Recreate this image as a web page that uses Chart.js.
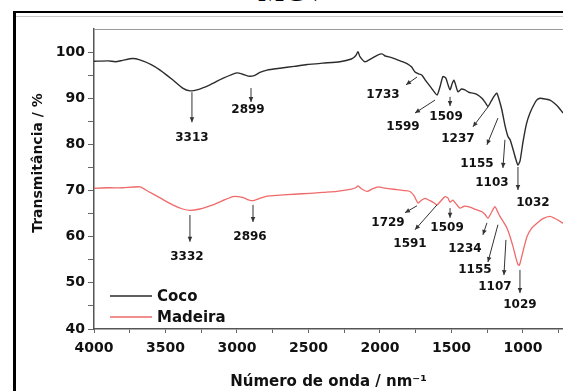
<!DOCTYPE html>
<html><head><meta charset="utf-8">
<script src="https://cdn.jsdelivr.net/npm/chart.js@4/dist/chart.umd.min.js"></script>
<style>
html,body{margin:0;padding:0;background:#fff;width:563px;height:391px;overflow:hidden;}
#title{position:absolute;left:0;width:584px;top:-24px;text-align:center;font-family:"Liberation Serif","Times New Roman",serif;font-size:30px;line-height:30px;color:#000;}
#frame{position:absolute;left:13px;top:11px;width:600px;height:400px;border-left:3px solid #000;border-top:2px solid #000;}
#inner{position:absolute;left:16px;top:16px;width:600px;height:0;border-top:1px solid #c8c8c8;}
#wrap{position:absolute;left:0;top:0;width:563px;height:391px;}
</style></head>
<body>
<div id="title">MCV</div>
<div id="frame"></div>
<div id="inner"></div>
<div id="wrap"><canvas id="c" width="563" height="391"></canvas></div>
<script>
// ---- data ----
const seriesNames = ['Coco', 'Madeira'];
const cocoX = [4000,3900,3850,3800,3730,3680,3600,3538,3450,3380,3329,3280,3189,3100,3000,2960,2923,2880,2840,2790,2700,2600,2510,2400,2280,2200,2170,2154,2140,2105,2060,2020,1986,1960,1944,1900,1850,1811,1780,1755,1730,1706,1680,1640,1601,1580,1560,1540,1525,1510,1495,1483,1470,1455,1430,1406,1380,1350,1320,1287,1260,1245,1220,1200,1182,1165,1147,1125,1105,1090,1070,1050,1035,1020,1000,975,951,920,900,881,860,840,811,780,750,720];
const cocoY = [98.0,98.1,97.9,98.2,98.6,98.3,97.3,96.1,94.0,92.2,91.6,91.8,92.9,94.3,95.5,95.2,94.8,94.9,95.6,96.1,96.5,96.9,97.3,97.6,97.9,98.5,99.2,100.1,99.0,97.9,98.6,99.3,99.6,99.1,99.0,98.6,98.0,97.5,96.8,95.7,95.3,95.0,93.8,92.2,90.7,92.5,94.7,94.4,93.0,91.8,93.2,93.9,92.8,91.4,92.0,91.8,91.3,91.1,90.8,90.0,88.9,88.2,89.5,90.5,91.1,89.5,87.4,84.0,81.7,81.0,79.0,76.8,75.5,76.5,80.5,84.5,86.8,88.8,89.7,90.0,89.9,89.8,89.6,88.9,88.0,86.8];
const madX = [4000,3900,3800,3678,3620,3538,3450,3380,3329,3260,3168,3100,3028,2960,2920,2888,2850,2790,2700,2600,2490,2400,2301,2200,2170,2154,2130,2091,2050,2014,1980,1940,1880,1830,1790,1760,1734,1710,1685,1650,1620,1601,1570,1545,1525,1510,1490,1465,1441,1410,1371,1330,1287,1265,1245,1220,1196,1180,1161,1140,1112,1090,1070,1050,1035,1025,1010,990,972,940,902,860,811,780,750,720];
const madY = [70.5,70.6,70.6,70.8,69.8,68.4,66.9,66.0,65.7,66.0,66.9,67.8,68.7,68.5,68.0,67.8,68.2,68.8,69.0,69.2,69.4,69.6,69.8,70.3,70.6,71.0,70.4,69.8,70.4,70.8,70.6,70.4,70.2,70.0,69.8,68.8,67.3,67.9,68.3,67.8,67.3,66.9,67.9,68.7,68.4,67.5,67.9,67.0,66.2,66.6,66.4,65.9,65.4,64.8,64.0,65.3,66.5,65.6,64.4,63.4,61.9,60.0,57.9,55.5,54.0,53.8,55.5,58.0,60.0,61.8,62.9,63.9,64.4,64.0,63.5,62.9];
const xTicks = [4000,3750,3500,3250,3000,2750,2500,2250,2000,1750,1500,1250,1000,750];
const yTicks = [40,45,50,55,60,65,70,75,80,85,90,95,100];
const xTitle = 'Número de onda / nm⁻¹';
const yTitle = 'Transmitância / %';
// peak annotations (data units): label, label position, arrow start, arrow end
const annText  = ['3313','2899','1733','1599','1509','1237','1155','1103','1032','3332','2896','1729','1591','1509','1234','1155','1107','1029'];
const annTextX = [3315,2923,1979,1839,1538,1455,1322,1217,930, 3350,2909,1944,1790,1531,1406,1336,1196,1021];
const annTextY = [81.4,87.4,90.7,83.8,85.9,81.2,75.8,71.6,67.3, 55.6,60.0,63.0,58.4,61.9,57.4,52.8,49.1,45.2];
const annFromX = [3315,2902,1741,1615,1510,1245,1175,1126,1035, 3329,2888,1741,1601,1510,1252,1175,1119,1021];
const annFromY = [91.3,92.2,94.6,89.6,90.3,88.1,85.7,81.0,75.1, 64.7,66.9,66.7,66.9,66.2,63.0,62.6,59.3,52.8];
const annToX   = [3315,2902,1818,1755,1510,1350,1252,1140,1035, 3329,2888,1825,1755,1510,1280,1245,1133,1021];
const annToY   = [84.8,89.2,92.9,86.8,88.3,83.8,79.9,74.9,70.1, 58.9,63.2,65.2,61.5,64.1,60.4,54.5,51.7,47.8];

const toPts = (xs, ys) => xs.map((x, i) => ({x: x, y: ys[i]}));
const lineColors = ['#2b2b2b', '#f06a6a'];
const FONT = '"DejaVu Sans", "Liberation Sans", Arial, sans-serif';

const decorPlugin = {
  id: 'decor',
  afterDraw(chart) {
    const ctx = chart.ctx, ca = chart.chartArea;
    const xs = chart.scales.x, ys = chart.scales.y;
    ctx.save();
    // top frame line
    ctx.strokeStyle = '#9a9a9a'; ctx.lineWidth = 1.2;
    ctx.beginPath(); ctx.moveTo(ca.left, ca.top + 0.5); ctx.lineTo(ca.right, ca.top + 0.5); ctx.stroke();
    // y title
    ctx.fillStyle = '#111';
    ctx.font = 'bold 14px ' + FONT;
    ctx.textAlign = 'center'; ctx.textBaseline = 'middle';
    ctx.save(); ctx.translate(38, 163); ctx.rotate(-Math.PI / 2); ctx.fillText(yTitle, 0, 0); ctx.restore();
    // annotations
    ctx.font = 'bold 12px ' + FONT;
    for (let i = 0; i < annText.length; i++) {
      const x1 = xs.getPixelForValue(annFromX[i]), y1 = ys.getPixelForValue(annFromY[i]);
      const x2 = xs.getPixelForValue(annToX[i]), y2 = ys.getPixelForValue(annToY[i]);
      ctx.strokeStyle = '#333'; ctx.fillStyle = '#333'; ctx.lineWidth = 1;
      ctx.beginPath(); ctx.moveTo(x1, y1); ctx.lineTo(x2, y2); ctx.stroke();
      const a = Math.atan2(y2 - y1, x2 - x1), L = 5, W = 2.3;
      ctx.beginPath();
      ctx.moveTo(x2, y2);
      ctx.lineTo(x2 - L * Math.cos(a) + W * Math.sin(a), y2 - L * Math.sin(a) - W * Math.cos(a));
      ctx.lineTo(x2 - L * Math.cos(a) - W * Math.sin(a), y2 - L * Math.sin(a) + W * Math.cos(a));
      ctx.closePath(); ctx.fill();
      ctx.fillStyle = '#111';
      ctx.fillText(annText[i], xs.getPixelForValue(annTextX[i]), ys.getPixelForValue(annTextY[i]));
    }
    // legend
    ctx.font = 'bold 15px ' + FONT;
    ctx.textAlign = 'left';
    const lx = ca.left + 16;
    const lyBase = [ca.bottom - 33, ca.bottom - 12];
    for (let i = 0; i < seriesNames.length; i++) {
      ctx.strokeStyle = lineColors[i]; ctx.lineWidth = 1.3;
      ctx.beginPath(); ctx.moveTo(lx, lyBase[i]); ctx.lineTo(lx + 42, lyBase[i]); ctx.stroke();
      ctx.fillStyle = '#111';
      ctx.fillText(seriesNames[i], lx + 47, lyBase[i] + 1);
    }
    ctx.restore();
  }
};

new Chart(document.getElementById('c'), {
  type: 'line',
  data: {
    datasets: [
      {label: seriesNames[0], data: toPts(cocoX, cocoY), borderColor: lineColors[0], borderWidth: 1.4, pointRadius: 0, tension: 0.2, fill: false},
      {label: seriesNames[1], data: toPts(madX, madY), borderColor: lineColors[1], borderWidth: 1.3, pointRadius: 0, tension: 0.2, fill: false}
    ]
  },
  options: {
    responsive: false, animation: false, devicePixelRatio: 1,
    layout: {padding: {left: 0, right: 0, top: 29, bottom: 0}},
    plugins: {legend: {display: false}, tooltip: {enabled: false}},
    scales: {
      x: {
        type: 'linear', reverse: true, min: 720, max: 4000,
        afterBuildTicks: s => { s.ticks = xTicks.map(v => ({value: v})); },
        afterFit: s => { s.height = 62; s.paddingLeft = 0; s.paddingRight = 0; },
        ticks: {callback: v => (v % 500 === 0 ? String(v) : ''), autoSkip: false, maxRotation: 0, padding: 7,
                color: '#111', font: {family: FONT, weight: 'bold', size: 14}},
        grid: {display: true, drawOnChartArea: false, drawTicks: true, tickLength: 4, color: '#666'},
        border: {display: true, color: '#555', width: 1.5},
        title: {display: true, text: xTitle, color: '#111', padding: 0, font: {family: FONT, weight: 'bold', size: 15}}
      },
      y: {
        min: 40, max: 105,
        afterBuildTicks: s => { s.ticks = yTicks.map(v => ({value: v})); },
        afterFit: s => { s.width = 94; s.paddingTop = 0; s.paddingBottom = 0; },
        ticks: {callback: v => (v % 10 === 0 ? String(v) : ''), autoSkip: false, padding: 3,
                color: '#111', font: {family: FONT, weight: 'bold', size: 14}},
        grid: {display: true, drawOnChartArea: false, drawTicks: true, tickLength: 6, color: '#666'},
        border: {display: true, color: '#555', width: 1.5}
      }
    }
  },
  plugins: [decorPlugin]
});
</script>
</body></html>
